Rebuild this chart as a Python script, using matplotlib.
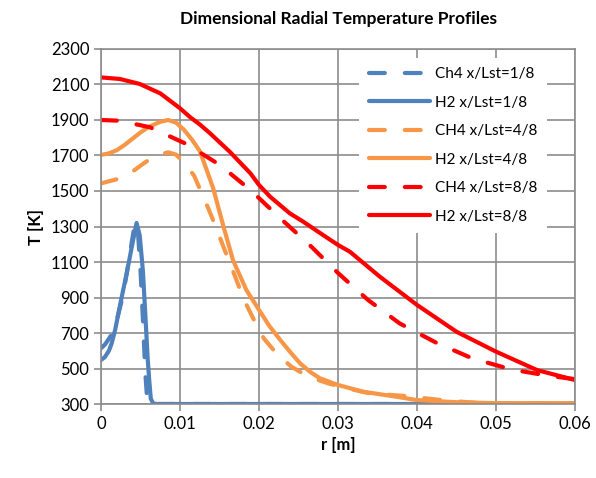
import matplotlib
matplotlib.use("Agg")
import matplotlib.pyplot as plt

plt.rcParams['font.family'] = ['Lato', 'DejaVu Sans']

# --- data ---
# x/Lst = 1/8
r_ch4_1 = [0, 0.0005, 0.001, 0.0016, 0.0021, 0.0026, 0.003, 0.0035, 0.0039, 0.0043, 0.0047, 0.005, 0.0053, 0.0056, 0.0058, 0.006, 0.007, 0.01, 0.02, 0.03, 0.04]
T_ch4_1 = [614, 635, 668, 710, 790, 880, 970, 1100, 1215, 1320, 1250, 1050, 780, 480, 350, 305, 300, 300, 300, 300, 300]
r_h2_1 = [0, 0.0005, 0.001, 0.00135, 0.0018, 0.0022, 0.0027, 0.00325, 0.0039, 0.0045, 0.0049, 0.0053, 0.0056, 0.0059, 0.0061, 0.0063, 0.0066, 0.007, 0.01, 0.02, 0.03, 0.04, 0.05, 0.06]
T_h2_1 = [548, 565, 600, 642, 720, 811, 920, 1036, 1186, 1320, 1250, 1050, 811, 560, 435, 330, 303, 300, 300, 300, 300, 300, 300, 300]

# x/Lst = 4/8
r_ch4_4 = [0, 0.0024, 0.004, 0.0056, 0.007, 0.0085, 0.0095, 0.0108, 0.0118, 0.0126, 0.0136, 0.0146, 0.0155, 0.0164, 0.0173, 0.0182, 0.0194, 0.0206, 0.0222, 0.0241, 0.0262, 0.0287, 0.031, 0.034, 0.0385, 0.0435, 0.048, 0.055, 0.06]
T_ch4_4 = [1543, 1571, 1610, 1662, 1700, 1718, 1705, 1646, 1585, 1502, 1400, 1290, 1185, 1085, 980, 878, 770, 670, 585, 510, 455, 417, 390, 360, 345, 320, 305, 303, 303]
r_h2_4 = [0, 0.001, 0.002, 0.003, 0.004, 0.005, 0.006, 0.0075, 0.0085, 0.0095, 0.0105, 0.0115, 0.0125, 0.0132, 0.0142, 0.0155, 0.0167, 0.0184, 0.02, 0.0213, 0.0227, 0.024, 0.0252, 0.0265, 0.0277, 0.03, 0.0332, 0.0374, 0.04, 0.045, 0.05, 0.055, 0.06]
T_h2_4 = [1703, 1712, 1730, 1760, 1795, 1830, 1860, 1890, 1900, 1885, 1845, 1790, 1725, 1640, 1515, 1300, 1111, 942, 830, 740, 660, 590, 529, 480, 445, 407, 369, 341, 322, 310, 305, 305, 305]

# x/Lst = 8/8
r_ch4_8 = [0, 0.0023, 0.0062, 0.0108, 0.0151, 0.019, 0.0227, 0.0264, 0.03, 0.0338, 0.0378, 0.0424, 0.047, 0.0519, 0.0568, 0.06]
T_ch4_8 = [1900, 1896, 1859, 1765, 1645, 1502, 1346, 1196, 1038, 886, 754, 646, 557, 495, 458, 440]
r_h2_8 = [0, 0.0024, 0.0049, 0.0075, 0.01, 0.0113, 0.0125, 0.0138, 0.0163, 0.0189, 0.02, 0.0214, 0.0239, 0.0256, 0.0281, 0.03, 0.0315, 0.0353, 0.04, 0.045, 0.05, 0.0552, 0.06]
T_h2_8 = [2140, 2131, 2103, 2050, 1966, 1915, 1875, 1825, 1721, 1600, 1534, 1468, 1374, 1327, 1252, 1196, 1158, 1017, 858, 707, 595, 491, 435]

blue = '#4F81BD'
orange = '#F79646'
red = '#FF0000'

fig = plt.figure(figsize=(5.96, 4.78), dpi=100)
ax = fig.add_axes([0.1695, 0.1548, 0.7953, 0.7427])

lw = 3
dash = dict(linestyle=(0, (3.8, 4.8)), dash_capstyle='round')
solid = dict(linestyle='-', solid_capstyle='round', solid_joinstyle='round')

ax.plot(r_ch4_1, T_ch4_1, color=blue, lw=lw, label='Ch4 x/Lst=1/8', **dash)
ax.plot(r_h2_1, T_h2_1, color=blue, lw=lw, label='H2 x/Lst=1/8', **solid)
ax.plot(r_ch4_4, T_ch4_4, color=orange, lw=lw, label='CH4 x/Lst=4/8', **dash)
ax.plot(r_h2_4, T_h2_4, color=orange, lw=lw, label='H2 x/Lst=4/8', **solid)
ax.plot(r_ch4_8, T_ch4_8, color=red, lw=lw, label='CH4 x/Lst=8/8', **dash)
ax.plot(r_h2_8, T_h2_8, color=red, lw=lw, label='H2 x/Lst=8/8', **solid)

ax.set_xlim(0, 0.06)
ax.set_ylim(300, 2300)
ax.set_xticks([0, 0.01, 0.02, 0.03, 0.04, 0.05, 0.06])
ax.set_xticklabels(['0', '0.01', '0.02', '0.03', '0.04', '0.05', '0.06'])
ax.set_yticks(range(300, 2301, 200))

grid_c = '#8C8C8C'
ax.grid(True, color=grid_c, lw=1.2)
ax.set_axisbelow(True)
for s in ax.spines.values():
    s.set_color(grid_c)
    s.set_linewidth(1.2)
ax.tick_params(colors=grid_c, labelcolor='black', labelsize=12, length=5, width=1.2, direction='out')

ax.set_xlabel('r [m]', fontsize=12, fontweight='bold', labelpad=4)
ax.set_ylabel('T [K]', fontsize=12, fontweight='bold', labelpad=5)
ax.set_title('Dimensional Radial Temperature Profiles', fontsize=12.5, fontweight='bold', pad=18)

leg = ax.legend(loc='upper left', bbox_to_anchor=(0.545, 0.975), fontsize=11, handlelength=4.0,
                handletextpad=0.35, labelspacing=0.95, frameon=True, facecolor='white',
                edgecolor='none', framealpha=1, borderpad=0.6, borderaxespad=0)

fig.savefig('out.png', dpi=100)
